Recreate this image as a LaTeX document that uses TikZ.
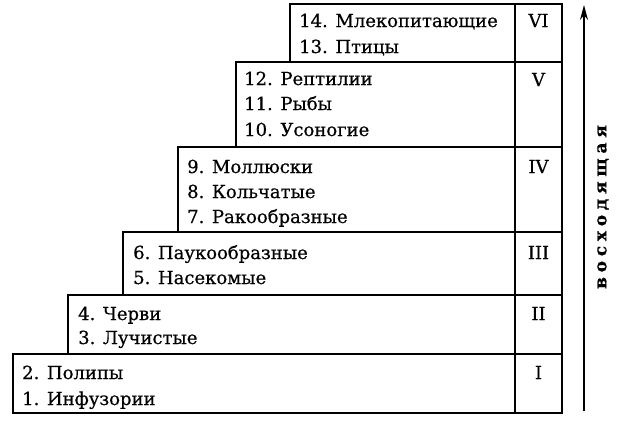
\documentclass[tikz,border=0pt]{standalone}
\usepackage{fontspec}
\setmainfont{DejaVu Serif}[FakeBold=0.6]
\usetikzlibrary{arrows.meta}
\begin{document}
\begin{tikzpicture}[x=1pt,y=-1pt,
  lbl/.style={anchor=base west,inner sep=0pt,font=\fontsize{18}{21}\selectfont},
  rom/.style={anchor=base,inner sep=0pt,font=\fontsize{18}{21}\selectfont},
  stepbox/.style={draw,line width=1.3pt},
  axis/.style={line width=1.1pt,-{Stealth[length=15pt,width=8pt]}}]
\useasboundingbox (0,0) rectangle (640,437);
% boxes
\draw[stepbox] (290,4) rectangle (562,62);
\draw[stepbox] (236,62) rectangle (562,147);
\draw[stepbox] (178,147) rectangle (562,232);
\draw[stepbox] (123,232) rectangle (562,295);
\draw[stepbox] (68,295) rectangle (562,354);
\draw[stepbox] (13,354) rectangle (562,413);
\draw[stepbox] (515,4) -- (515,413);
% texts
\node[lbl] (t14) at (299,27) {14. Млекопитающие};
\node[lbl] (t13) at (299,53) {13. Птицы};
\node[lbl] (t12) at (244,85) {12. Рептилии};
\node[lbl] (t11) at (244,110) {11. Рыбы};
\node[lbl] (t10) at (244,136) {10. Усоногие};
\node[lbl] (t9) at (187,173) {9. Моллюски};
\node[lbl] (t8) at (187,198) {8. Кольчатые};
\node[lbl] (t7) at (187,223) {7. Ракообразные};
\node[lbl] (t6) at (133,259) {6. Паукообразные};
\node[lbl] (t5) at (133,284) {5. Насекомые};
\node[lbl] (t4) at (78,320) {4. Черви};
\node[lbl] (t3) at (78,344) {3. Лучистые};
\node[lbl] (t2) at (22,379) {2. Полипы};
\node[lbl] (t1) at (22,405) {1. Инфузории};
\node[rom] (r6) at (538.5,27) {VI};
\node[rom] (r5) at (538.5,86) {V};
\node[rom] (r4) at (538.5,173) {IV};
\node[rom] (r3) at (538.5,259) {III};
\node[rom] (r2) at (538.5,320) {II};
\node[rom] (r1) at (538.5,379) {I};
% arrow
\coordinate (abot) at (584,411);
\coordinate (atop) at (584,5);
\draw[axis] (abot) -- (atop);
\node[rotate=90,inner sep=0pt,font=\fontsize{17}{20}\selectfont\bfseries\addfontfeature{LetterSpace=28}] (asc) at (603,207) {восходящая};
\end{tikzpicture}
\end{document}
